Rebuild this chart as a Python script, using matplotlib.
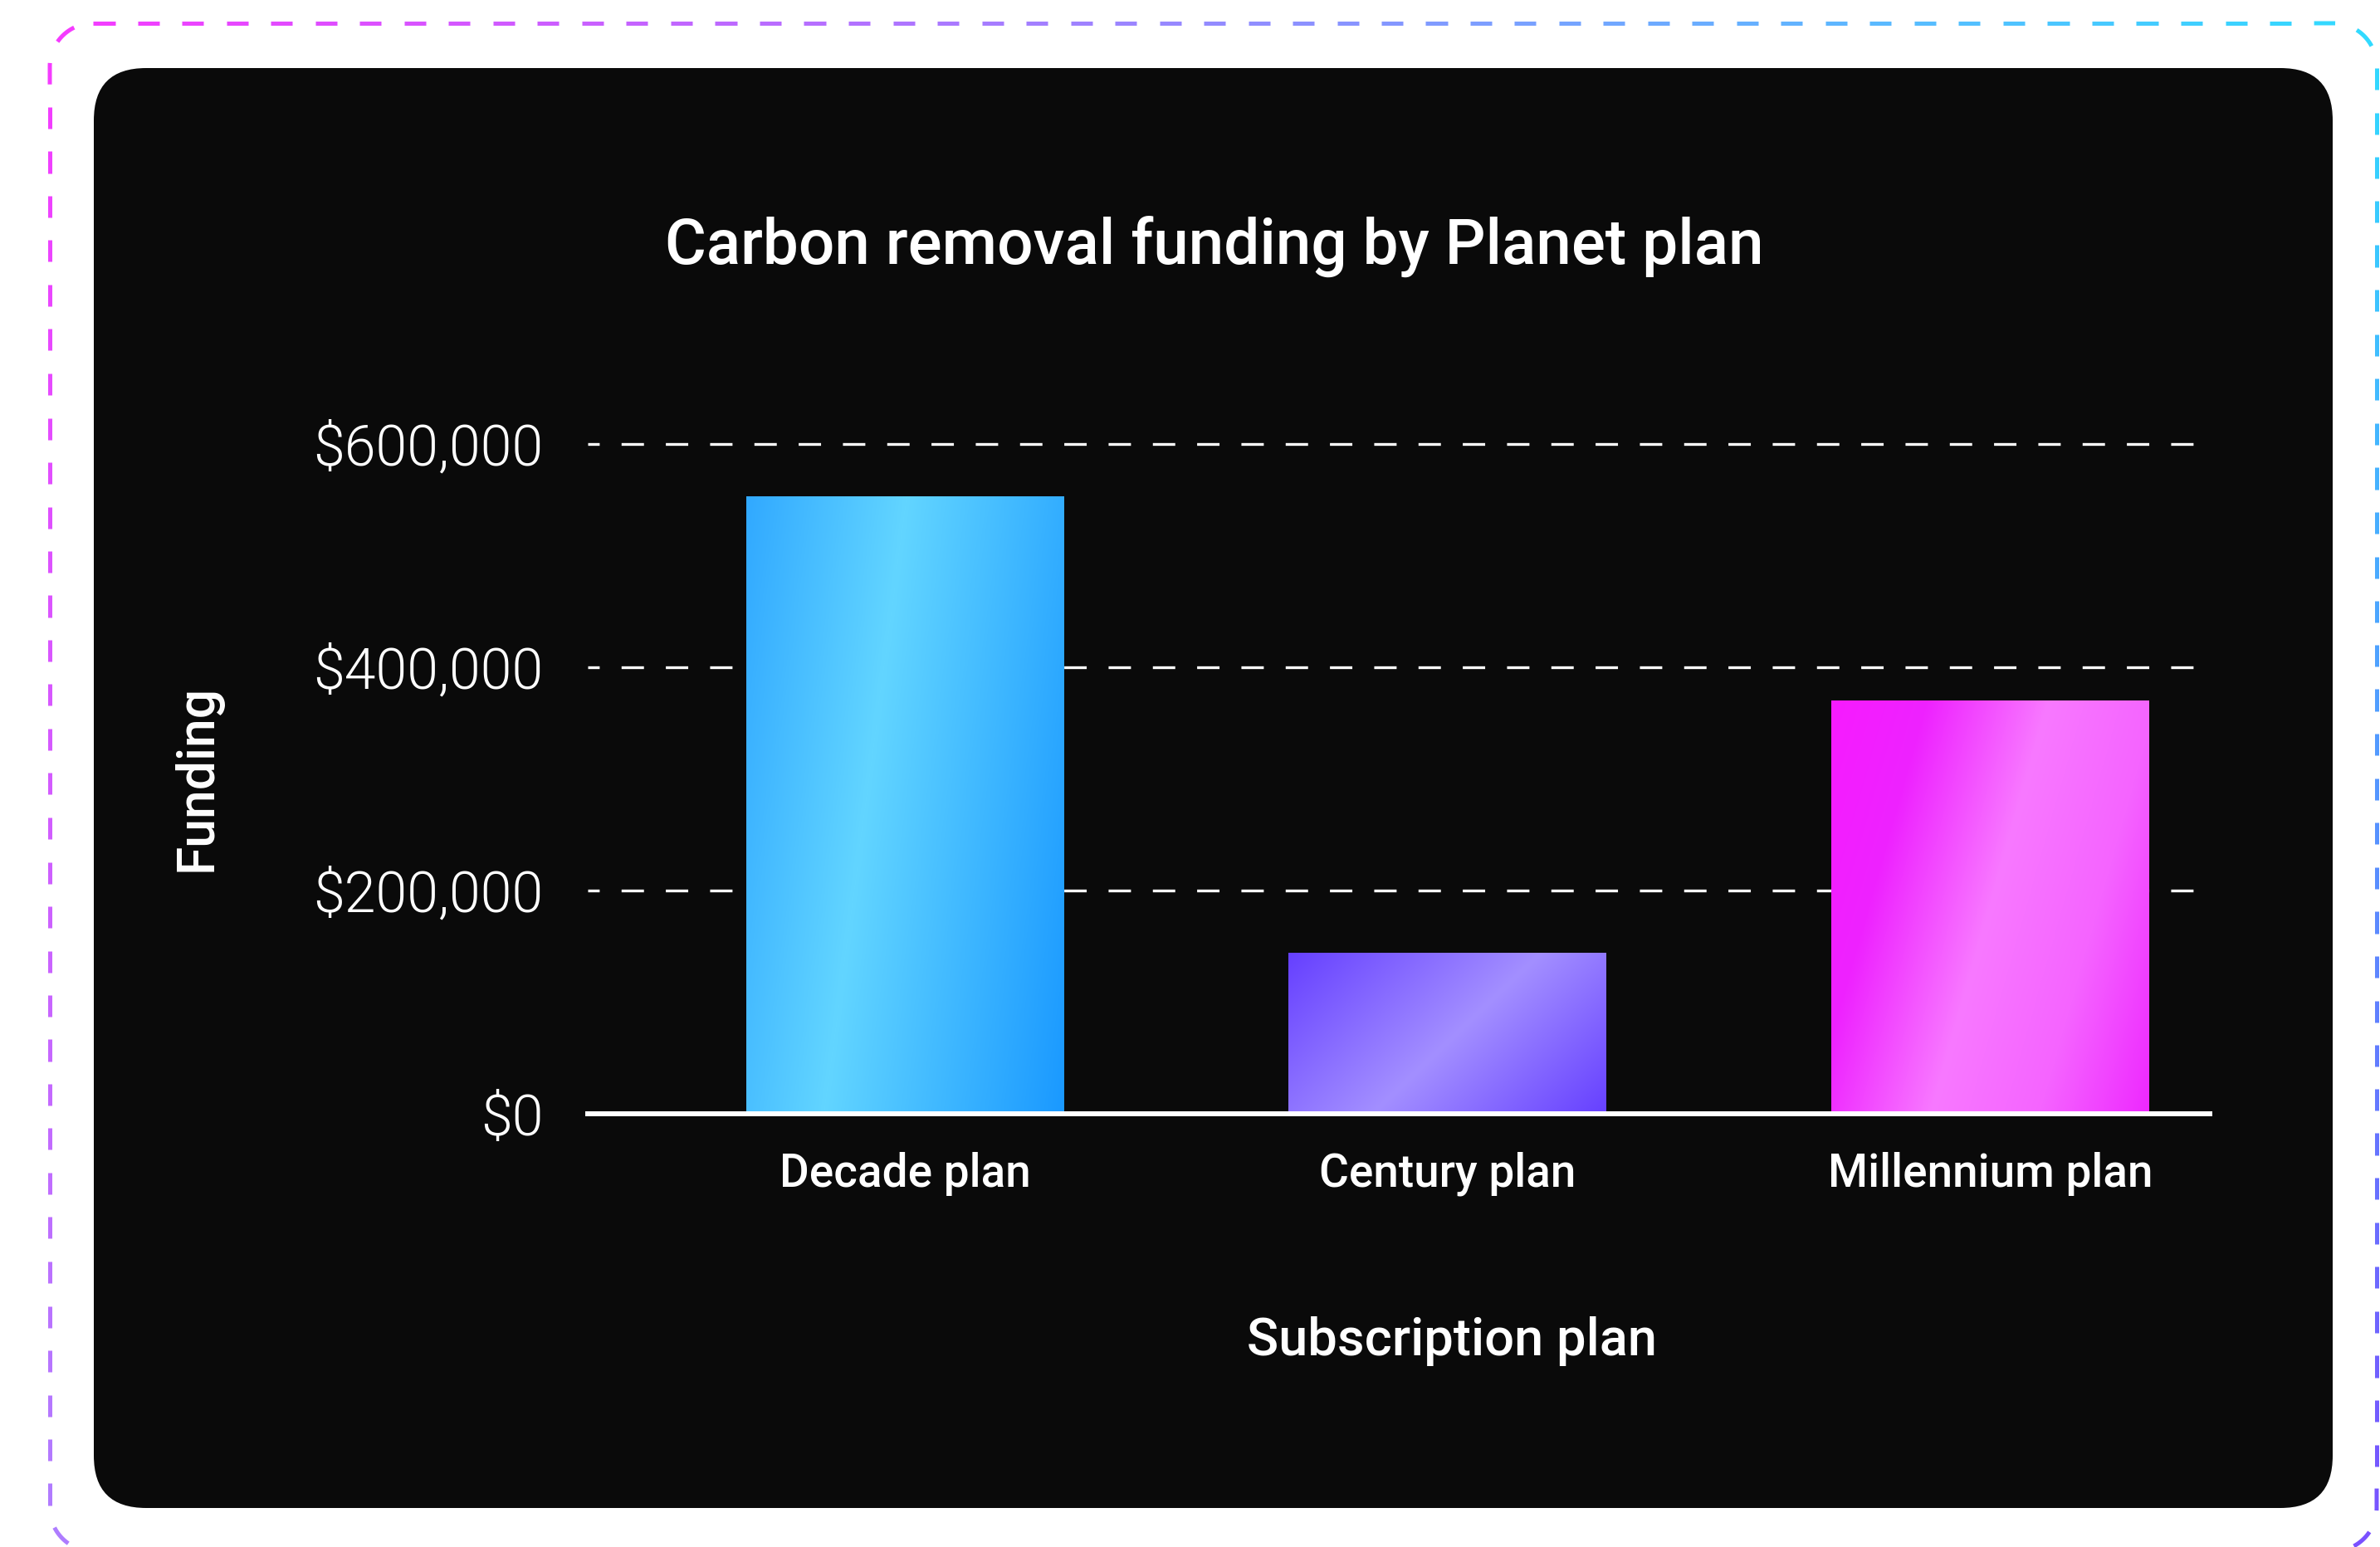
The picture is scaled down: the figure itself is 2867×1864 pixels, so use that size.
import matplotlib
matplotlib.use('Agg')
import matplotlib.pyplot as plt
import numpy as np
from matplotlib.colors import LinearSegmentedColormap, to_rgb
from matplotlib.patches import FancyBboxPatch
from matplotlib.collections import LineCollection
from matplotlib.ticker import FuncFormatter

# data
plans = ['Decade plan', 'Century plan', 'Millennium plan']
funding = [553000, 144000, 370000]
yticks = [0, 200000, 400000, 600000]

# gradient stops per bar (position, colour) and tilt of the gradient
bar_stops = [
    [(0.0, '#31A9FF'), (0.40, '#62D5FF'), (1.0, '#1A99FF')],
    [(0.0, '#6640FF'), (0.52, '#A38FFF'), (1.0, '#6640FF')],
    [(0.0, '#F71BFF'), (0.22, '#EE22FF'), (0.50, '#F879FF'), (0.75, '#F564FF'), (1.0, '#EE28FF')],
]
bar_tilt = [0.26, 0.53, 0.37]

plt.rcParams['font.family'] = ['Roboto', 'DejaVu Sans']
plt.rcParams['lines.scale_dashes'] = False

W, H = 2867, 1864
fig = plt.figure(figsize=(W / 100, H / 100), dpi=100)
fig.patch.set_facecolor('white')

# background axes in pixel units
bg = fig.add_axes([0, 0, 1, 1], zorder=0)
bg.set_xlim(0, W)
bg.set_ylim(H, 0)
bg.axis('off')

panel = FancyBboxPatch((113, 82), 2810 - 113, 1817 - 82,
                       boxstyle='round,pad=0,rounding_size=63',
                       fc='#0A0A0A', ec='none')
bg.add_patch(panel)


# dashed gradient border
def border_path(x0, y0, x1, y1, r):
    pts = []
    def line(a, b, n):
        for t in np.linspace(0, 1, n, endpoint=False):
            pts.append((a[0] + (b[0] - a[0]) * t, a[1] + (b[1] - a[1]) * t))
    def arc(cx, cy, a0, a1):
        for a in np.linspace(np.radians(a0), np.radians(a1), 80, endpoint=False):
            pts.append((cx + r * np.cos(a), cy + r * np.sin(a)))
    line((x0 + r, y0), (x1 - r, y0), 3000)
    arc(x1 - r, y0 + r, -90, 0)
    line((x1, y0 + r), (x1, y1 - r), 2000)
    arc(x1 - r, y1 - r, 0, 90)
    line((x1 - r, y1), (x0 + r, y1), 3000)
    arc(x0 + r, y1 - r, 90, 180)
    line((x0, y1 - r), (x0, y0 + r), 2000)
    arc(x0 + r, y0 + r, 180, 270)
    pts.append((x0 + r, y0))
    return np.array(pts)


bx0, by0, bx1, by1, br = 60, 28, 2863, 1869, 52
pts = border_path(bx0, by0, bx1, by1, br)
seg = np.hypot(*np.diff(pts, axis=0).T)
s = np.concatenate([[0], np.cumsum(seg)])
corner = {'tl': to_rgb('#F73AFF'), 'tr': to_rgb('#30DCFF'),
          'br': to_rgb('#7A50FF'), 'bl': to_rgb('#AE7DFF')}
dash, gap = 27, 26.5
lines, cols = [], []
start = 0.0
while start < s[-1]:
    m = (s >= start) & (s <= start + dash)
    p = pts[m]
    if len(p) > 1:
        lines.append(p)
        mx, my = p[len(p) // 2]
        u = (mx - bx0) / (bx1 - bx0)
        v = (my - by0) / (by1 - by0)
        c = [(1 - u) * (1 - v) * corner['tl'][k] + u * (1 - v) * corner['tr'][k]
             + u * v * corner['br'][k] + (1 - u) * v * corner['bl'][k] for k in range(3)]
        cols.append(c)
    start += dash + gap
bg.add_collection(LineCollection(lines, colors=cols, linewidths=3.6, capstyle='butt'))

# main chart
px_per = 807 / 600000
top_val = 610000
ax = fig.add_axes([708 / W, (H - 1342) / H, (2662 - 708) / W, top_val * px_per / H], zorder=1)
ax.set_facecolor('none')

x = np.arange(len(plans))
bars = ax.bar(x, funding, width=0.586, color='none', linewidth=0, zorder=2)
for bar, stops, tilt in zip(bars, bar_stops, bar_tilt):
    x0, y0 = bar.get_xy()
    w, h = bar.get_width(), bar.get_height()
    X, Y = np.meshgrid(np.linspace(0, 1, 400), np.linspace(0, 1, 400))
    t = (X + tilt * Y) / (1 + tilt)
    cmap = LinearSegmentedColormap.from_list('g', stops)
    img = ax.imshow(t, cmap=cmap, vmin=0, vmax=1, extent=(x0, x0 + w, y0, y0 + h),
                    origin='upper', aspect='auto', interpolation='bilinear', zorder=2)
    img.set_clip_path(bar)

ax.set_xlim(-0.585, 2.405)
ax.set_ylim(0, top_val)
ax.set_yticks(yticks)
ax.yaxis.set_major_formatter(FuncFormatter(lambda v, p: '${:,.0f}'.format(v)))
ax.set_xticks(x)
ax.set_xticklabels(plans)

ax.set_axisbelow(True)
ax.grid(axis='y', color='white', linewidth=2.4, linestyle=(9.4, (19.4, 19.0)))
ax.grid(axis='x', visible=False)

for side in ['top', 'right', 'left']:
    ax.spines[side].set_visible(False)
ax.spines['bottom'].set_color('white')
ax.spines['bottom'].set_linewidth(4.3)
ax.spines['bottom'].set_zorder(3)

ax.tick_params(axis='y', length=0, pad=38.5, labelsize=49, labelcolor='white')
ax.tick_params(axis='x', length=0, pad=33, labelsize=39.5, labelcolor='white')
for lab in ax.get_yticklabels():
    lab.set_fontweight(300)
for lab in ax.get_xticklabels():
    lab.set_fontweight('medium')

# title and axis labels
bg.text(1463, 318, 'Carbon removal funding by Planet plan', ha='center', va='baseline',
        fontsize=55, fontweight='medium', color='white')
bg.text(1749, 1633, 'Subscription plan', ha='center', va='baseline',
        fontsize=45.5, fontweight='medium', color='white')
bg.text(238, 937, 'Funding', ha='center', va='center', rotation=90,
        fontsize=45, fontweight='medium', color='white')

fig.savefig('out.png', dpi=100)
